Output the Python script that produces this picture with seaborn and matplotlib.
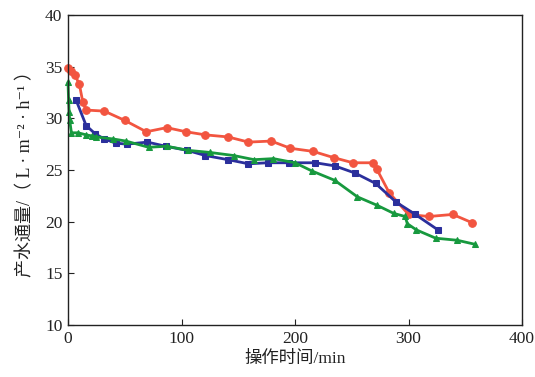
import matplotlib
matplotlib.use("Agg")
import matplotlib.pyplot as plt
import seaborn as sns
import pandas as pd

red_x = [0, 3, 6, 10, 13, 16, 32, 50, 69, 87, 104, 121, 141, 159, 179, 196, 216, 234, 251, 269, 272, 283, 300, 318, 339, 356]
red_y = [34.9, 34.6, 34.2, 33.3, 31.6, 30.8, 30.7, 29.8, 28.7, 29.1, 28.7, 28.4, 28.2, 27.7, 27.8, 27.1, 26.8, 26.2, 25.7, 25.7, 25.1, 22.8, 20.7, 20.5, 20.7, 19.9]

blue_x = [7, 16, 24, 32, 42, 52, 70, 86, 105, 121, 141, 159, 176, 195, 218, 235, 253, 271, 289, 306, 326]
blue_y = [31.8, 29.3, 28.5, 28.0, 27.6, 27.5, 27.7, 27.3, 26.9, 26.4, 26.0, 25.6, 25.7, 25.7, 25.7, 25.4, 24.7, 23.7, 21.9, 20.7, 19.2]

green_x = [0, 0.5, 1, 1.5, 3, 9, 16, 21, 25, 40, 51, 71, 87, 106, 125, 146, 164, 181, 200, 215, 235, 255, 272, 287, 297, 299, 307, 324, 343, 359]
green_y = [33.5, 31.8, 30.6, 29.8, 28.6, 28.6, 28.4, 28.3, 28.2, 28.0, 27.8, 27.2, 27.3, 26.9, 26.7, 26.4, 26.0, 26.1, 25.7, 24.9, 24.0, 22.4, 21.6, 20.8, 20.5, 19.8, 19.2, 18.4, 18.2, 17.8]

x_ticks = [0, 100, 200, 300, 400]
y_ticks = [10, 15, 20, 25, 30, 35, 40]
x_label = "操作时间/min"
y_label = "产水通量/（ L · m⁻² · h⁻¹ ）"

sns.set_theme(style="ticks")
plt.rcParams["font.family"] = ["Liberation Serif", "Noto Sans CJK SC", "DejaVu Sans"]

fig = plt.figure(figsize=(5.35, 3.77), dpi=100)
ax = fig.add_axes([68 / 535, 1 - 325 / 377, (522 - 68) / 535, (325 - 15) / 377])

series = [
    (red_x, red_y, "#f25540", "o", 5.5),
    (blue_x, blue_y, "#2b2f9c", "s", 5),
    (green_x, green_y, "#17993e", "^", 5),
]
for xs, ys, c, m, ms in series:
    df = pd.DataFrame({"t": xs, "v": ys})
    sns.lineplot(data=df, x="t", y="v", ax=ax, color=c, marker=m, markersize=ms,
                 linewidth=2, markeredgecolor=c, sort=False, clip_on=False)

ax.set_xlim(0, 400)
ax.set_ylim(10, 40)
ax.set_xticks(x_ticks)
ax.set_yticks(y_ticks)
ax.tick_params(direction="in", length=4, width=0.8, labelsize=12.5, colors="#222222",
               top=False, right=False, pad=4)
for s in ax.spines.values():
    s.set_visible(True)
    s.set_linewidth(1.0)
    s.set_color("#222222")
ax.set_xlabel(x_label, fontsize=12.5, color="#222222", labelpad=3)
ax.set_ylabel(y_label, fontsize=13, color="#222222", labelpad=8)

fig.savefig("out.png", dpi=100, facecolor="white")
